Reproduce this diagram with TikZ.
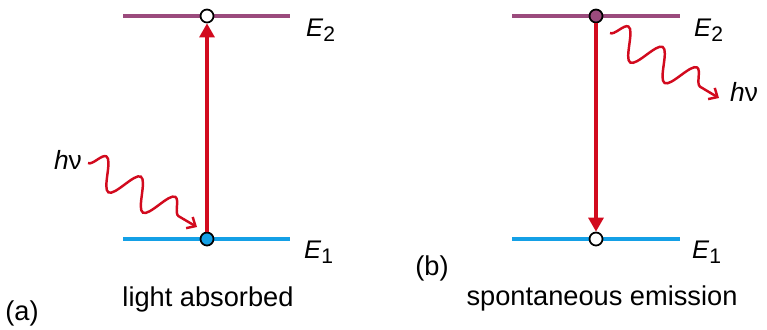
\documentclass[tikz,border=0pt]{standalone}
\usepackage{fontspec}
\setmainfont{Liberation Sans}
\usetikzlibrary{decorations.pathmorphing, arrows.meta}
\definecolor{upperlev}{RGB}{155,75,125}
\definecolor{lowerlev}{RGB}{20,160,230}
\definecolor{photon}{RGB}{210,10,30}
\newcommand{\En}[1]{{\fontsize{14.5}{16}\selectfont\itshape E\/}\raisebox{-0.5ex}{\fontsize{12}{14}\selectfont #1}}
\newcommand{\hnu}{{\fontsize{15}{17}\selectfont\itshape h\/\upshape ν}}

\begin{document}
\begin{tikzpicture}[x=0.02cm,y=-0.02cm,
    level/.style={line width=2.2pt},
    dot/.style={circle,draw=black,line width=1pt,inner sep=0pt,minimum size=0.26cm},
    trans/.style={photon,line width=1.8pt,-{Triangle[length=0.28cm,width=0.3cm]}},
    wave/.style={photon,line width=1.4pt,decorate,
        decoration={snake,segment length=0.8cm,amplitude=0.3cm,post length=0.16cm},
        -{Straight Barb[length=0.14cm,width=0.26cm]}},
    caption/.style={font=\fontsize{15.5}{18}\selectfont}]
    \useasboundingbox (0,0) rectangle (767,329);

    % (a) absorption
    \draw[level,upperlev] (123,16) -- (290,16);
    \draw[level,lowerlev] (123,239) -- (290,239);
    \node[dot,fill=white] (a2) at (207,16) {};
    \node[dot,fill=lowerlev] (a1) at (207,239) {};
    \node[anchor=west] (a2lab) at (300,30) {\En{2}};
    \node[anchor=west] (a1lab) at (298,252) {\En{1}};
    \draw[trans] (a1) -- (a2);
    \node (hva) at (68,160) {\hnu};
    \coordinate (ina) at (197,227);
    \draw[wave] (88,163) -- (ina);
    \node[caption] (capa) at (208,299) {light absorbed};
    \node[caption] (taga) at (22,313) {(a)};

    % (b) spontaneous emission
    \draw[level,upperlev] (512,16) -- (680,16);
    \draw[level,lowerlev] (512,239) -- (680,239);
    \node[dot,fill=upperlev] (b2) at (596,16) {};
    \node[dot,fill=white] (b1) at (596,239) {};
    \node[anchor=west] (b2lab) at (688,30) {\En{2}};
    \node[anchor=west] (b1lab) at (686,252) {\En{1}};
    \draw[trans] (b2) -- (b1);
    \coordinate (outb) at (610,33);
    \node (hvb) at (744,92) {\hnu};
    \draw[wave] (outb) -- (719,98);
    \node[caption] (capb) at (602,298) {spontaneous emission};
    \node[caption] (tagb) at (432,268) {(b)};
\end{tikzpicture}
\end{document}
